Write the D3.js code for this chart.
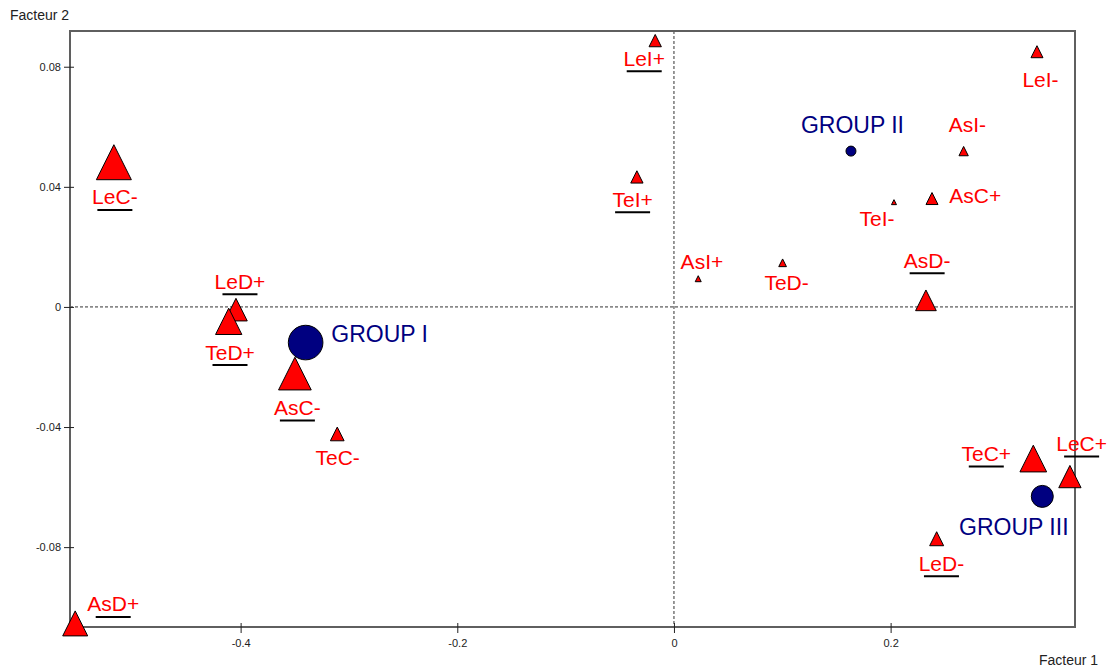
<!DOCTYPE html>
<html>
<head>
<meta charset="utf-8">
<script src="https://cdn.jsdelivr.net/npm/d3@7"></script>
<style>
  html, body { margin: 0; padding: 0; background: #fff; }
  svg { display: block; font-family: "Liberation Sans", Arial, sans-serif; }
</style>
</head>
<body>
<svg id="chart" width="1110" height="670"></svg>
<script>
// Modalities projected on the first factorial plane
const modalities = ["LeC-", "LeD+", "TeD+", "AsC-", "TeC-", "AsD+", "LeI+", "TeI+", "AsI+",
                    "TeD-", "LeI-", "AsI-", "AsC+", "TeI-", "AsD-", "TeC+", "LeC+", "LeD-"];
const factor1 = [-0.517, -0.4043, -0.411, -0.3499, -0.3108, -0.5527, -0.0173, -0.0342, 0.0224,
                 0.1003, 0.3351, 0.2674, 0.2382, 0.2031, 0.2326, 0.3317, 0.3655, 0.2425];
const factor2 = [0.0482, -0.0009, -0.0048, -0.0222, -0.0423, -0.1054, 0.0887, 0.0433, 0.0094,
                 0.0147, 0.085, 0.0519, 0.0361, 0.0349, 0.0022, -0.0505, -0.0565, -0.0772];
// relative weight of each modality (symbol size)
const weight = [7.0, 4.52, 5.26, 6.54, 2.74, 5.0, 2.46, 2.46, 1.2,
                1.54, 2.4, 1.86, 2.4, 1.0, 4.14, 5.34, 4.46, 2.8];
// modalities flagged as characteristic (underlined)
const flagged = [1, 1, 1, 1, 0, 1, 1, 1, 0, 0, 0, 0, 0, 0, 1, 1, 1, 1];

// Group centroids
const groups = ["GROUP I", "GROUP II", "GROUP III"];
const groupF1 = [-0.340, 0.1634, 0.340];
const groupF2 = [-0.01187, 0.0519, -0.0631];
const groupWeight = [3.46, 1.0, 2.2];

// Axis ticks and extents
const xTicks = [-0.4, -0.2, 0, 0.2];
const yTicks = [-0.08, -0.04, 0, 0.04, 0.08];
const xExtent = [-0.5575, 0.3702];
const yExtent = [-0.1066, 0.0919];
const xTitle = "Facteur 1";
const yTitle = "Facteur 2";

// Label placement (pixel offsets of each label centre from its symbol)
const labelOffset = [[1, 34.7], [4, -28.5], [1.3, 30.7], [2.5, 34], [0.4, 23], [38, -19.5],
                     [-11, 17.6], [-4.3, 22.3], [3.7, -16.8], [4, 19.2], [3.5, 27.3], [3.8, -27],
                     [43.3, -3.5], [-17, 16.3], [1.2, -40], [-47, -5], [11.7, -33], [4.8, 24.4]];
const groupLabelOffset = [[74, -9], [1.5, -26], [-28.5, 30.7]];

const svg = d3.select("#chart");
const plotL = 70, plotR = 1075, plotT = 31, plotB = 627;

const x = d3.scaleLinear().domain(xExtent).range([plotL, plotR]);
const y = d3.scaleLinear().domain(yExtent).range([plotB, plotT]);
const side = d3.scaleLinear().domain([0, 1]).range([0, 5]);   // triangle side per unit weight
const radius = d3.scaleLinear().domain([0, 1]).range([0, 5]); // circle radius per unit weight

// Tick labels use a plain hyphen for negatives
const fmt = p => d => d === 0 ? "0" : d3.format(p)(d).replace("\u2212", "-");

// Zero reference lines
svg.append("line")
  .attr("x1", x(0)).attr("x2", x(0)).attr("y1", plotT).attr("y2", plotB)
  .attr("stroke", "#333").attr("stroke-width", 1).attr("stroke-dasharray", "3,2");
svg.append("line")
  .attr("x1", plotL).attr("x2", plotR).attr("y1", y(0)).attr("y2", y(0))
  .attr("stroke", "#333").attr("stroke-width", 1).attr("stroke-dasharray", "3,2");

// Frame
svg.append("rect")
  .attr("x", plotL).attr("y", plotT).attr("width", plotR - plotL).attr("height", plotB - plotT)
  .attr("fill", "none").attr("stroke", "#5f5f5f").attr("stroke-width", 2);

// Axes
const yAxis = svg.append("g")
  .attr("transform", `translate(${plotL},0)`)
  .call(d3.axisLeft(y).tickValues(yTicks).tickSize(6).tickPadding(3).tickFormat(fmt(".2f")));
yAxis.select(".domain").remove();
yAxis.selectAll(".tick line").attr("x1", 4).attr("stroke", "#222");
yAxis.selectAll(".tick text").attr("font-size", 11).attr("fill", "#222")
  .attr("font-family", "Liberation Sans, Arial, sans-serif");

const xAxis = svg.append("g")
  .attr("transform", `translate(0,${plotB})`)
  .call(d3.axisBottom(x).tickValues(xTicks).tickSize(6).tickPadding(6).tickFormat(fmt(".1f")));
xAxis.select(".domain").remove();
xAxis.selectAll(".tick line").attr("y1", -4).attr("stroke", "#222");
xAxis.selectAll(".tick text").attr("font-size", 11).attr("fill", "#222")
  .attr("font-family", "Liberation Sans, Arial, sans-serif");

// Axis titles
svg.append("text").attr("x", 10).attr("y", 20).attr("font-size", 14).attr("fill", "#222")
  .text(yTitle);
svg.append("text").attr("x", 1039).attr("y", 665).attr("font-size", 14).attr("fill", "#222")
  .text(xTitle);

// Group centroids
const gData = groups.map((g, i) => ({ name: g, f1: groupF1[i], f2: groupF2[i], w: groupWeight[i], off: groupLabelOffset[i] }));
svg.append("g").selectAll("circle").data(gData).join("circle")
  .attr("cx", d => x(d.f1)).attr("cy", d => y(d.f2)).attr("r", d => radius(d.w))
  .attr("fill", "#000080").attr("stroke", "#000").attr("stroke-width", 1);

// Modalities as triangles
const mData = modalities.map((m, i) => ({ name: m, f1: factor1[i], f2: factor2[i], w: weight[i], flag: flagged[i], off: labelOffset[i] }));
const tri = s => `M0,${-s / 2}L${s / 2},${s / 2}L${-s / 2},${s / 2}Z`;
svg.append("g").selectAll("path").data(mData).join("path")
  .attr("transform", d => `translate(${x(d.f1)},${y(d.f2)})`)
  .attr("d", d => tri(side(d.w)))
  .attr("fill", "#ff0000").attr("stroke", "#000").attr("stroke-width", 1)
  .attr("stroke-linejoin", "miter");

// Modality labels
const lab = svg.append("g").selectAll("g").data(mData).join("g")
  .attr("transform", d => `translate(${x(d.f1) + d.off[0]},${y(d.f2) + d.off[1]})`);
lab.append("text")
  .attr("text-anchor", "middle").attr("dy", "0.36em")
  .attr("font-size", 21).attr("fill", "#ff0000")
  .text(d => d.name);
lab.filter(d => d.flag).append("line")
  .attr("x1", -17.5).attr("x2", 17.5).attr("y1", 13).attr("y2", 13)
  .attr("stroke", "#000").attr("stroke-width", 2);

// Group labels
svg.append("g").selectAll("text").data(gData).join("text")
  .attr("x", d => x(d.f1) + d.off[0]).attr("y", d => y(d.f2) + d.off[1])
  .attr("text-anchor", "middle").attr("dy", "0.36em")
  .attr("font-size", 23).attr("fill", "#000080")
  .text(d => d.name);
</script>
</body>
</html>
